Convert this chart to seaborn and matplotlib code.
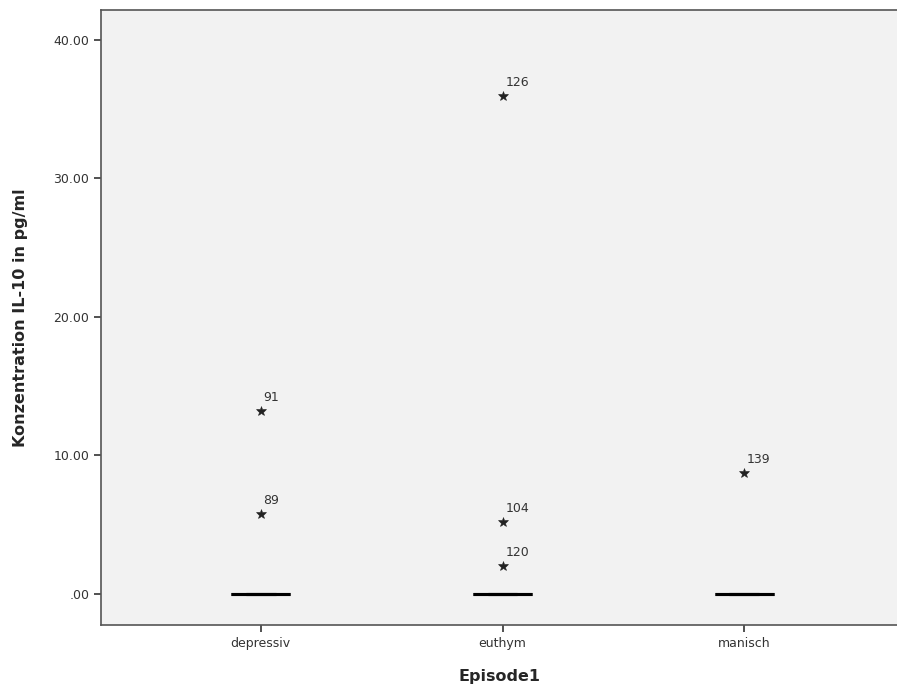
import matplotlib
matplotlib.use('Agg')
import matplotlib.pyplot as plt
import seaborn as sns
import pandas as pd

# Konzentration IL-10 je Episode (Mehrzahl der Werte liegt bei 0)
groups = ['depressiv', 'euthym', 'manisch']
depressiv_values = [0.0, 0.0, 0.0, 0.0, 0.0, 0.0, 0.0, 0.0, 0.0, 0.0, 0.0, 0.0, 13.2, 5.8]
euthym_values = [0.0, 0.0, 0.0, 0.0, 0.0, 0.0, 0.0, 0.0, 0.0, 0.0, 0.0, 0.0, 0.0, 0.0, 35.9, 5.2, 2.0]
manisch_values = [0.0, 0.0, 0.0, 0.0, 0.0, 0.0, 0.0, 0.0, 0.0, 0.0, 8.7]

# Ausreisser-Beschriftungen (Fallnummern)
outlier_group = ['depressiv', 'depressiv', 'euthym', 'euthym', 'euthym', 'manisch']
outlier_value = [13.2, 5.8, 35.9, 5.2, 2.0, 8.7]
outlier_label = ['91', '89', '126', '104', '120', '139']

y_ticks = [0, 10, 20, 30, 40]
y_ticklabels = ['.00', '10.00', '20.00', '30.00', '40.00']

rows = []
for g, vals in zip(groups, [depressiv_values, euthym_values, manisch_values]):
    for v in vals:
        rows.append({'Episode1': g, 'IL10': v})
df = pd.DataFrame(rows)

sns.set_style('white')
plt.rcParams['font.family'] = ['DejaVu Sans']

fig = plt.figure(figsize=(8.97, 6.93), dpi=100)
ax = fig.add_axes([0.1126, 0.098, 0.8874, 0.888])
ax.set_facecolor('#f2f2f2')

sns.boxplot(data=df, x='Episode1', y='IL10', order=groups, ax=ax,
            width=0.245, color='#f2f2f2', linewidth=2.2,
            linecolor='black', whis=3.0,
            flierprops=dict(marker='*', markersize=7, markerfacecolor='#222222',
                            markeredgecolor='#222222', markeredgewidth=0.4))

for g, v, lab in zip(outlier_group, outlier_value, outlier_label):
    xi = groups.index(g)
    ax.annotate(lab, (xi, v), xytext=(2, 5), textcoords='offset points',
                fontsize=9, color='#333333', ha='left', va='bottom')

ax.set_xlim(-0.661, 2.632)
ax.set_ylim(-2.25, 42.15)
ax.set_yticks(y_ticks)
ax.set_yticklabels(y_ticklabels)

for side in ['top', 'left', 'bottom']:
    ax.spines[side].set_visible(True)
    ax.spines[side].set_color('#555555')
    ax.spines[side].set_linewidth(1.2)
ax.spines['right'].set_visible(False)

ax.tick_params(axis='both', which='major', direction='out', length=5, width=1.2,
               color='#333333', labelsize=9, labelcolor='#333333',
               left=True, bottom=True)

ax.set_xlabel('Episode1', fontsize=11.5, fontweight='bold', labelpad=14)
ax.set_ylabel('Konzentration IL-10 in pg/ml', fontsize=11.5, fontweight='bold', labelpad=18)

fig.savefig('out.png', dpi=100)
